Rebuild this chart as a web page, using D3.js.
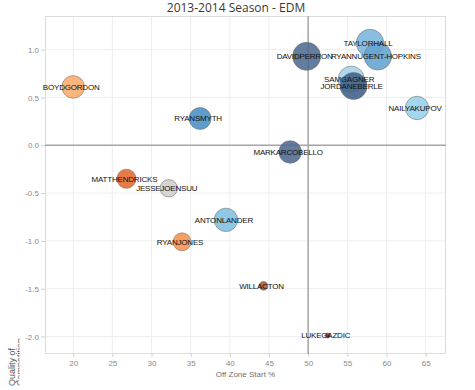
<!DOCTYPE html>
<html>
<head>
<meta charset="utf-8">
<script src="https://cdn.jsdelivr.net/npm/d3@7"></script>
<style>
  html, body { margin: 0; padding: 0; background: #fff; }
  svg { display: block; }
</style>
</head>
<body>
<svg id="chart" width="475" height="390"></svg>
<script>
// ---- data ----
const players = ["BOYDGORDON","RYANSMYTH","MATTHENDRICKS","JESSEJOENSUU","ANTONLANDER","RYANJONES","WILLACTON","LUKEGAZDIC","DAVIDPERRON","TAYLORHALL","RYANNUGENT-HOPKINS","SAMGAGNER","JORDANEBERLE","NAILYAKUPOV","MARKARCOBELLO"];
const offZoneStart = [20.0, 36.2, 26.8, 32.2, 39.5, 33.9, 44.3, 52.5, 49.8, 57.9, 58.9, 55.5, 55.8, 63.9, 47.7];
const qualComp     = [0.61, 0.28, -0.35, -0.45, -0.78, -1.01, -1.47, -1.99, 0.93, 1.07, 0.93, 0.69, 0.62, 0.39, -0.07];
const sizeMeasure  = [128, 121, 92, 76, 137, 81, 19, 6, 196, 188, 188, 172, 182, 137, 128];
const colorMeasure = ["#fdab6c","#4a8fc5","#e2692d","#d3cecb","#80c0e0","#f6914c","#ad5232","#7a3119","#4e6a8f","#79b5dc","#64a3d0","#a4d3ea","#3f5e88","#95d2ea","#4d6990"];
const xTicks = [20, 25, 30, 35, 40, 45, 50, 55, 60, 65];
const yTicks = [1.0, 0.5, 0.0, -0.5, -1.0, -1.5, -2.0];
const titleText = "2013-2014 Season - EDM";
const xLabel = "Off Zone Start %";
const yLabelLines = ["Quality of", "Competition"];

// ---- layout ----
const svg = d3.select("#chart");
const L = 45, R = 446, T = 16, B = 354;

const x = d3.scaleLinear().domain([16.4, 67.6]).range([L, R]);
const y = d3.scaleLinear().domain([-2.183, 1.352]).range([B, T]);
const r = d3.scaleSqrt().domain([0, 196]).range([0, 14]);

// title
svg.append("text")
  .attr("x", 236).attr("y", 12)
  .attr("text-anchor", "middle")
  .attr("font-family", "'Open Sans', 'DejaVu Sans', sans-serif")
  .attr("font-size", "12px")
  .attr("fill", "#3b3733")
  .text(titleText);

// gridlines
svg.append("g").selectAll("line").data(xTicks).join("line")
  .attr("x1", d => x(d)).attr("x2", d => x(d))
  .attr("y1", T).attr("y2", B)
  .attr("stroke", "#eeeeee").attr("stroke-width", 1);
svg.append("g").selectAll("line").data(yTicks).join("line")
  .attr("x1", L).attr("x2", R)
  .attr("y1", d => y(d)).attr("y2", d => y(d))
  .attr("stroke", "#eeeeee").attr("stroke-width", 1);

// plot frame
svg.append("rect")
  .attr("x", L + 0.5).attr("y", T + 0.5)
  .attr("width", R - L - 1).attr("height", B - T - 1)
  .attr("fill", "none").attr("stroke", "#dcdcdc").attr("stroke-width", 1);

// reference lines
svg.append("line")
  .attr("x1", x(50)).attr("x2", x(50)).attr("y1", T).attr("y2", B)
  .attr("stroke", "#a6a6a6").attr("stroke-width", 1.5);
svg.append("line")
  .attr("x1", L).attr("x2", R).attr("y1", y(0)).attr("y2", y(0))
  .attr("stroke", "#a6a6a6").attr("stroke-width", 1.5);

// axes
const xAxis = d3.axisBottom(x).tickValues(xTicks).tickSize(3).tickPadding(3).tickFormat(d => d);
const yAxis = d3.axisLeft(y).tickValues(yTicks).tickSize(4).tickPadding(2).tickFormat(d => d.toFixed(1));

const gx = svg.append("g").attr("transform", `translate(0,${B})`).call(xAxis);
const gy = svg.append("g").attr("transform", `translate(${L},0)`).call(yAxis);
[gx, gy].forEach(g => {
  g.select(".domain").remove();
  g.selectAll(".tick line").attr("stroke", "#d0d0d0");
  g.selectAll(".tick text")
    .attr("fill", "#8a8a8a")
    .attr("font-family", "'Liberation Sans', Arial, sans-serif")
    .attr("font-size", "8px");
});

// axis titles
svg.append("text")
  .attr("x", (L + R) / 2).attr("y", 377)
  .attr("text-anchor", "middle")
  .attr("font-family", "'Liberation Sans', Arial, sans-serif")
  .attr("font-size", "8px")
  .attr("fill", "#707070")
  .text(xLabel);

const defs = svg.append("defs");
defs.append("clipPath").attr("id", "ylabclip")
  .append("rect").attr("x", 0).attr("y", 300).attr("width", 19.5).attr("height", 90);

svg.append("g").attr("clip-path", "url(#ylabclip)")
  .selectAll("text").data(yLabelLines).join("text")
  .attr("transform", (d, i) => `translate(${14.5 + i * 8.5},386) rotate(-90)`)
  .attr("text-anchor", "start")
  .attr("font-family", "'Liberation Sans', Arial, sans-serif")
  .attr("font-size", "9px")
  .attr("fill", "#555")
  .text(d => d);

// bubbles
const data = players.map((p, i) => ({
  name: p, xv: offZoneStart[i], yv: qualComp[i], s: sizeMeasure[i], c: colorMeasure[i]
}));

svg.append("g").selectAll("circle").data(data).join("circle")
  .attr("cx", d => x(d.xv)).attr("cy", d => y(d.yv))
  .attr("r", d => r(d.s))
  .attr("fill", d => d.c)
  .attr("fill-opacity", 0.88)
  .attr("stroke", "#6e6e6e")
  .attr("stroke-opacity", 0.7)
  .attr("stroke-width", 0.8);

svg.append("g").selectAll("text").data(data).join("text")
  .attr("x", d => x(d.xv) - 2).attr("y", d => y(d.yv))
  .attr("dy", "0.35em")
  .attr("text-anchor", "middle")
  .attr("font-family", "'Liberation Sans', Arial, sans-serif")
  .attr("font-size", "8px")
  .attr("letter-spacing", "-0.2px")
  .attr("fill", "#111")
  .text(d => d.name);
</script>
</body>
</html>
